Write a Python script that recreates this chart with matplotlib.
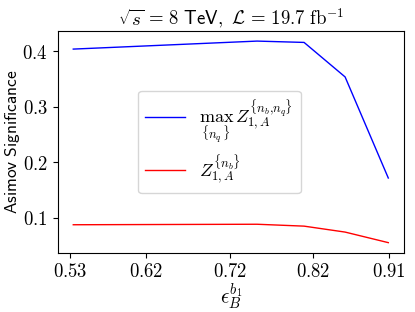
import matplotlib
matplotlib.use("Agg")
import matplotlib.pyplot as plt

plt.rcParams["mathtext.fontset"] = "cm"
plt.rcParams["font.family"] = "DejaVu Sans"

# b-tagging efficiency points
eff_b = [0.531, 0.7527, 0.8094, 0.8589, 0.911]
# significances
z_max_nq = [0.4036, 0.418, 0.4156, 0.3535, 0.1716]
z_nb = [0.0875, 0.0884, 0.085, 0.0743, 0.0553]

tick_pos = [0.5275, 0.619, 0.7201, 0.8206, 0.9123]
tick_labels = ["0.53", "0.62", "0.72", "0.82", "0.91"]
y_ticks = [0.1, 0.2, 0.3, 0.4]

fig = plt.figure(figsize=(4.15, 3.12), dpi=100)
ax = fig.add_axes([0.1386, 0.19, 0.835, 0.7106])

ax.plot(eff_b, z_max_nq, color="blue", lw=1.0,
        label=r"$\max_{\{n_q\}}\, Z_{1,A}^{\{n_b{,}n_q\}}$")
ax.plot(eff_b, z_nb, color="red", lw=1.0,
        label=r"$Z_{1,A}^{\{n_b\}}$")

ax.set_xticks(tick_pos)
ax.set_xticklabels(["$%s$" % t for t in tick_labels])
ax.set_yticks(y_ticks)
ax.set_yticklabels(["$%.1f$" % t for t in y_ticks])
ax.tick_params(labelsize=13.5)

ax.set_xlabel(r"$\epsilon_B^{b_1}$", fontsize=15, labelpad=0)
ax.set_ylabel(r"$\mathsf{Asimov\ Significance}$", fontsize=12.5, labelpad=0)
ax.set_title(r"$\sqrt{s}\, =\, \mathsf{8\ TeV,}\ \mathcal{L}\, =\, \mathsf{19.7}\ \mathrm{fb}^{-1}$",
             fontsize=13.5, pad=4)

ax.legend(loc="center", bbox_to_anchor=(0.467, 0.5), fontsize=13,
          handlelength=2.2, labelspacing=0.35)

fig.savefig("out.png", dpi=100)
